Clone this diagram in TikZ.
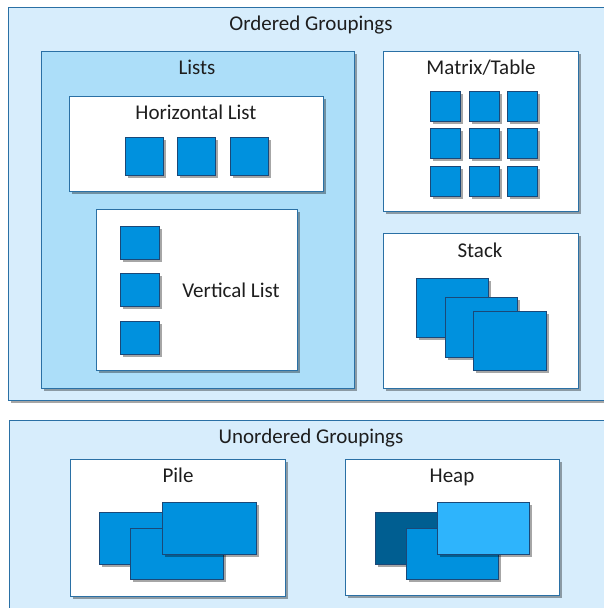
\documentclass[tikz,border=0pt]{standalone}
\usepackage{fontspec}
\setmainfont{Carlito}
\usetikzlibrary{shadows}
\definecolor{outerfill}{RGB}{215,237,252}
\definecolor{listfill}{RGB}{172,222,249}
\definecolor{panelline}{RGB}{42,112,165}
\definecolor{itemfill}{RGB}{0,145,222}
\definecolor{itemline}{RGB}{26,72,120}
\definecolor{heapdark}{RGB}{0,94,145}
\definecolor{heaplight}{RGB}{46,180,252}
\definecolor{txt}{RGB}{30,30,30}
\begin{document}
\begin{tikzpicture}[x=1pt,y=-1pt,
  shad/.style={drop shadow={shadow xshift=2pt,shadow yshift=-2pt,opacity=0.35,fill=black}},
  grp/.style={draw=panelline,fill=outerfill,line width=1.3pt,anchor=north west,inner sep=0pt,shad},
  lst/.style={draw=panelline,fill=listfill,line width=1.3pt,anchor=north west,inner sep=0pt,shad},
  panel/.style={draw=panelline,fill=white,line width=1.3pt,anchor=north west,inner sep=0pt,shad},
  item/.style={draw=itemline,fill=itemfill,line width=1.2pt,anchor=north west,inner sep=0pt,shad},
  lbl/.style={anchor=base,text=txt,font=\fontsize{21}{25}\selectfont,inner sep=0pt}]
\clip (0,0) rectangle (604,608);
\fill[white] (0,0) rectangle (604,608);
% Ordered groupings
\node[grp,minimum width=640,minimum height=393] (ordered) at (8,7) {};
\node[lbl] (tordered) at (311,30) {Ordered Groupings};
% Lists
\node[lst,minimum width=313,minimum height=337] (lists) at (41,51) {};
\node[lbl] (tlists) at (197,74) {Lists};
% Horizontal list
\node[panel,minimum width=254,minimum height=95] (hlist) at (69,96) {};
\node[lbl] (thlist) at (196,119) {Horizontal List};
\node[item,minimum width=38,minimum height=38] (h1) at (125,137) {};
\node[item,minimum width=38,minimum height=38] (h2) at (177,137) {};
\node[item,minimum width=38,minimum height=38] (h3) at (230,137) {};
% Vertical list
\node[panel,minimum width=201,minimum height=161] (vlist) at (96,209) {};
\node[lbl] (tvlist) at (231,297) {Vertical List};
\node[item,minimum width=39,minimum height=33] (v1) at (120,226) {};
\node[item,minimum width=39,minimum height=33] (v2) at (120,273) {};
\node[item,minimum width=39,minimum height=33] (v3) at (120,321) {};
% Matrix/Table
\node[panel,minimum width=195,minimum height=160] (matrix) at (383,51) {};
\node[lbl] (tmatrix) at (481,74) {Matrix/Table};
\foreach \c/\x in {1/430,2/469,3/507}{
  \foreach \r/\y in {1/91,2/128,3/166}{
    \node[item,minimum width=30,minimum height=30] (m\r\c) at (\x,\y) {};
  }
}
% Stack
\node[panel,minimum width=195,minimum height=155] (stack) at (383,233) {};
\node[lbl] (tstack) at (480,257) {Stack};
\node[item,minimum width=72,minimum height=59] (s1) at (416,278) {};
\node[item,minimum width=72,minimum height=60] (s2) at (445,297) {};
\node[item,minimum width=73,minimum height=59] (s3) at (473,311) {};
% Unordered groupings
\node[grp,minimum width=640,minimum height=260] (unordered) at (9,420) {};
\node[lbl] (tunordered) at (311,443) {Unordered Groupings};
% Pile
\node[panel,minimum width=215,minimum height=137] (pile) at (70,459) {};
\node[lbl] (tpile) at (178,482) {Pile};
\node[item,minimum width=93,minimum height=52] (p1) at (99,512) {};
\node[item,minimum width=93,minimum height=51] (p2) at (130,528) {};
\node[item,minimum width=94,minimum height=52] (p3) at (162,502) {};
% Heap
\node[panel,minimum width=214,minimum height=136] (heap) at (345,459) {};
\node[lbl] (theap) at (452,482) {Heap};
\node[item,fill=heapdark,minimum width=93,minimum height=52] (e1) at (375,512) {};
\node[item,minimum width=92,minimum height=51] (e2) at (406,528) {};
\node[item,fill=heaplight,minimum width=92,minimum height=52] (e3) at (437,502) {};
\end{tikzpicture}
\end{document}
